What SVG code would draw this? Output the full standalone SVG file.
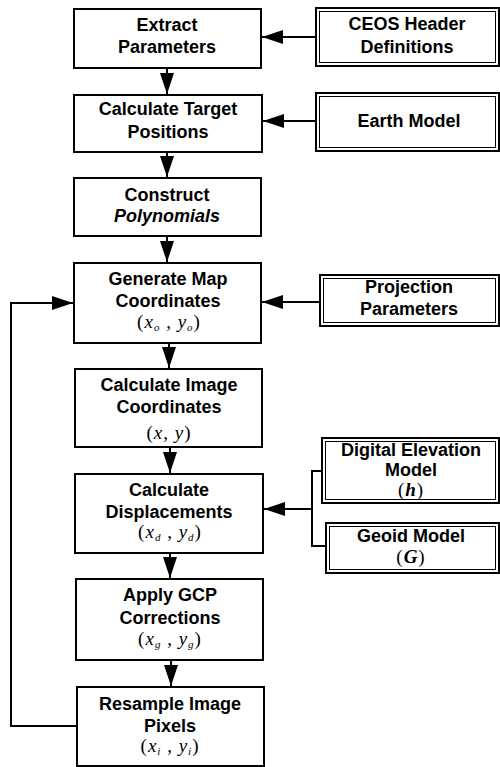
<svg xmlns="http://www.w3.org/2000/svg" width="500" height="767" viewBox="0 0 500 767">
<style>
.box{fill:#fff;stroke:#000;stroke-width:2}
.outer{fill:#fff;stroke:#000;stroke-width:2}
.inner{fill:none;stroke:#000;stroke-width:1}
.t{font-family:"Liberation Sans",Arial,sans-serif;font-weight:bold;font-size:18px;text-anchor:middle;fill:#000}
.m{font-family:"Liberation Serif","Times New Roman",serif;font-size:19px;text-anchor:middle;fill:#000;letter-spacing:1px}
.i{font-style:italic}
.s{font-style:italic;font-size:11px}
.c{fill:none;stroke:#000;stroke-width:2}
</style>
<defs>
<marker id="ah" viewBox="0 0 21 14" refX="21" refY="7" markerWidth="21" markerHeight="14" markerUnits="userSpaceOnUse" orient="auto">
<path d="M0,0 L21,7 L0,14 Z" fill="#000"/>
</marker>
</defs>
<g id="connectors">
<line class="c" x1="167" y1="68" x2="167" y2="94" marker-end="url(#ah)"/>
<line class="c" x1="167" y1="152" x2="167" y2="177" marker-end="url(#ah)"/>
<line class="c" x1="167" y1="236" x2="167" y2="262" marker-end="url(#ah)"/>
<line class="c" x1="169" y1="343" x2="169" y2="368" marker-end="url(#ah)"/>
<line class="c" x1="170" y1="447" x2="170" y2="473" marker-end="url(#ah)"/>
<line class="c" x1="170" y1="553" x2="170" y2="578" marker-end="url(#ah)"/>
<line class="c" x1="171" y1="660" x2="171" y2="686" marker-end="url(#ah)"/>
<line class="c" x1="315" y1="37" x2="262" y2="37" marker-end="url(#ah)"/>
<line class="c" x1="315" y1="121" x2="263" y2="121" marker-end="url(#ah)"/>
<line class="c" x1="319" y1="302" x2="262" y2="302" marker-end="url(#ah)"/>
<line class="c" x1="312" y1="509" x2="264" y2="509" marker-end="url(#ah)"/>
<polyline class="c" points="322,471 312,471 312,546 326,546"/>
<polyline class="c" points="77,726 11,726 11,303 73,303" marker-end="url(#ah)"/>
</g>
<g id="extract">
<rect class="box" x="74" y="9" width="187" height="59"/>
<text class="t" x="167" y="31">Extract</text>
<text class="t" x="167" y="53">Parameters</text>
</g>
<g id="target">
<rect class="box" x="74" y="95" width="188" height="57"/>
<text class="t" x="168" y="115">Calculate Target</text>
<text class="t" x="168" y="138">Positions</text>
</g>
<g id="construct">
<rect class="box" x="74" y="178" width="187" height="58"/>
<text class="t" x="167" y="201">Construct</text>
<text class="t" x="167" y="222" font-style="italic">Polynomials</text>
</g>
<g id="mapcoords">
<rect class="box" x="74" y="263" width="187" height="80"/>
<text class="t" x="168" y="285">Generate Map</text>
<text class="t" x="168" y="307">Coordinates</text>
<text class="m" x="169" y="328">(<tspan class="i">x</tspan><tspan class="s" dy="3">o</tspan><tspan dy="-3"> , </tspan><tspan class="i">y</tspan><tspan class="s" dy="3">o</tspan><tspan dy="-3">)</tspan></text>
</g>
<g id="imagecoords">
<rect class="box" x="75" y="369" width="187" height="78"/>
<text class="t" x="169" y="391">Calculate Image</text>
<text class="t" x="169" y="413">Coordinates</text>
<text class="m" x="169" y="439">(<tspan class="i">x</tspan>, <tspan class="i">y</tspan>)</text>
</g>
<g id="displacements">
<rect class="box" x="75" y="474" width="188" height="79"/>
<text class="t" x="169" y="496">Calculate</text>
<text class="t" x="169" y="518">Displacements</text>
<text class="m" x="170" y="538">(<tspan class="i">x</tspan><tspan class="s" dy="3">d</tspan><tspan dy="-3"> , </tspan><tspan class="i">y</tspan><tspan class="s" dy="3">d</tspan><tspan dy="-3">)</tspan></text>
</g>
<g id="gcp">
<rect class="box" x="76" y="579" width="187" height="81"/>
<text class="t" x="170" y="601">Apply GCP</text>
<text class="t" x="170" y="624">Corrections</text>
<text class="m" x="170" y="645">(<tspan class="i">x</tspan><tspan class="s" dy="3">g</tspan><tspan dy="-3"> , </tspan><tspan class="i">y</tspan><tspan class="s" dy="3">g</tspan><tspan dy="-3">)</tspan></text>
</g>
<g id="resample">
<rect class="box" x="77" y="687" width="187" height="79"/>
<text class="t" x="170" y="710">Resample Image</text>
<text class="t" x="170" y="732">Pixels</text>
<text class="m" x="170" y="752">(<tspan class="i">x</tspan><tspan class="s" dy="3">i</tspan><tspan dy="-3"> , </tspan><tspan class="i">y</tspan><tspan class="s" dy="3">i</tspan><tspan dy="-3">)</tspan></text>
</g>
<g id="ceos">
<rect class="outer" x="316" y="8" width="183" height="58"/>
<rect class="inner" x="319.5" y="11.5" width="176" height="51"/>
<text class="t" x="407" y="30">CEOS Header</text>
<text class="t" x="407" y="53">Definitions</text>
</g>
<g id="earth">
<rect class="outer" x="316" y="93" width="183" height="58"/>
<rect class="inner" x="319.5" y="96.5" width="176" height="51"/>
<text class="t" x="409" y="127">Earth Model</text>
</g>
<g id="projection">
<rect class="outer" x="320" y="275" width="179" height="51"/>
<rect class="inner" x="323.5" y="278.5" width="172" height="44"/>
<text class="t" x="409" y="293">Projection</text>
<text class="t" x="409" y="315">Parameters</text>
</g>
<g id="dem">
<rect class="outer" x="322" y="438" width="177" height="65"/>
<rect class="inner" x="325.5" y="441.5" width="170" height="58"/>
<text class="t" x="411" y="456">Digital Elevation</text>
<text class="t" x="411" y="476">Model</text>
<text class="m" x="411" y="496" font-size="17">(<tspan class="i" font-weight="bold">h</tspan>)</text>
</g>
<g id="geoid">
<rect class="outer" x="326" y="523" width="173" height="50"/>
<rect class="inner" x="329.5" y="526.5" width="166" height="43"/>
<text class="t" x="411" y="542">Geoid Model</text>
<text class="m" x="411" y="563">(<tspan class="i" font-weight="bold">G</tspan>)</text>
</g>
</svg>
